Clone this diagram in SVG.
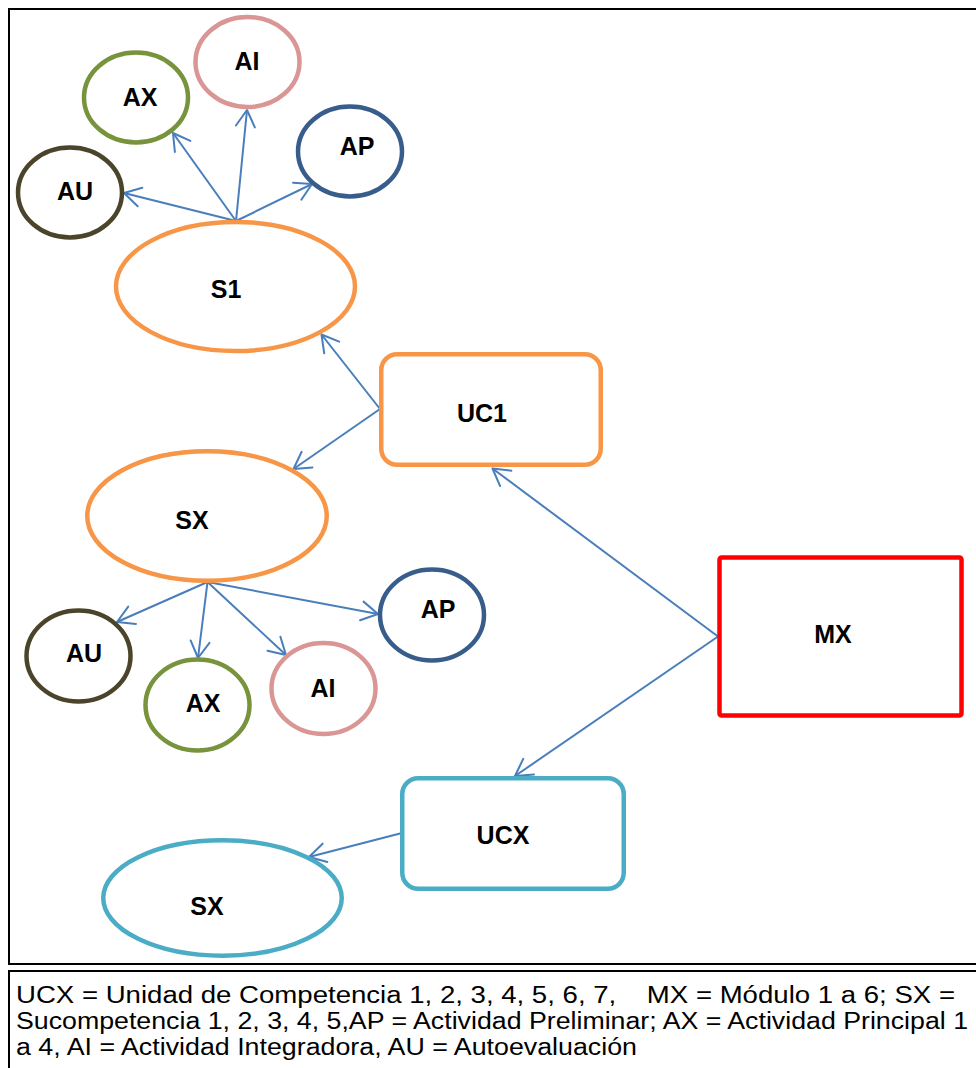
<svg xmlns="http://www.w3.org/2000/svg" width="976" height="1068" viewBox="0 0 976 1068">
  <style>
    .lbl { font-family: "Liberation Sans", Arial, sans-serif; font-weight: bold; font-size: 25px; fill: #000; text-anchor: middle; }
    .legend { font-family: "Liberation Sans", Arial, sans-serif; font-size: 23.5px; fill: #000; white-space: pre; }
    .frame { fill: none; stroke: #000; stroke-width: 2; }
    .node { fill: #fff; stroke-width: 4.5; }
    .orange { stroke: #F79646; }
    .teal { stroke: #4BACC6; }
    .red { stroke: #FF0000; }
    .pink { stroke: #D99694; }
    .green { stroke: #77933C; }
    .navy { stroke: #385D8A; }
    .olive { stroke: #4A452A; }
    .conn { fill: none; stroke: #4A7EBB; stroke-width: 2; marker-end: url(#arrow); }
  </style>
  <defs>
    <marker id="arrow" viewBox="-1 -1 23 22" refX="20" refY="10" markerWidth="23" markerHeight="22" markerUnits="userSpaceOnUse" orient="auto">
      <path d="M3.5,0.5 L20,10 L3.5,19.5" fill="none" stroke="#4A7EBB" stroke-width="2" stroke-linecap="round" stroke-linejoin="round"/>
    </marker>
  </defs>

  <rect width="976" height="1068" fill="#fff"/>

  <!-- outer frame of the chart and legend box -->
  <path class="frame" d="M980,9 H9 V964 H980"/>
  <path class="frame" d="M980,971 H9 V1072"/>

  <!-- connectors -->
  <g id="connectors">
    <line class="conn" x1="236" y1="221" x2="124" y2="193"/>
    <line class="conn" x1="236" y1="221" x2="173" y2="133"/>
    <line class="conn" x1="236" y1="221" x2="247" y2="110"/>
    <line class="conn" x1="236" y1="221" x2="312" y2="184"/>
    <line class="conn" x1="380" y1="409" x2="321.5" y2="334.5"/>
    <line class="conn" x1="380" y1="409" x2="293.5" y2="469"/>
    <line class="conn" x1="207.5" y1="582" x2="117" y2="622"/>
    <line class="conn" x1="207.5" y1="582" x2="198" y2="658"/>
    <line class="conn" x1="207.5" y1="582" x2="286" y2="655"/>
    <line class="conn" x1="207.5" y1="582" x2="378" y2="614"/>
    <line class="conn" x1="718" y1="636.5" x2="492.5" y2="468.5"/>
    <line class="conn" x1="718" y1="636.5" x2="515" y2="776"/>
    <line class="conn" x1="402" y1="833" x2="309" y2="857"/>
  </g>

  <!-- upper competency branch -->
  <g id="ai-top">
    <ellipse class="node pink" cx="247.5" cy="62" rx="52" ry="45"/>
    <text class="lbl" x="247" y="70">AI</text>
  </g>
  <g id="ax-top">
    <ellipse class="node green" cx="136" cy="97.5" rx="52" ry="45"/>
    <text class="lbl" x="140" y="106">AX</text>
  </g>
  <g id="ap-top">
    <ellipse class="node navy" cx="350" cy="151.5" rx="52" ry="45"/>
    <text class="lbl" x="357" y="155">AP</text>
  </g>
  <g id="au-top">
    <ellipse class="node olive" cx="70" cy="192.5" rx="52" ry="45"/>
    <text class="lbl" x="75" y="200">AU</text>
  </g>
  <g id="s1">
    <ellipse class="node orange" cx="235.5" cy="286.5" rx="119.5" ry="64.5"/>
    <text class="lbl" x="226" y="297.5">S1</text>
  </g>
  <g id="uc1">
    <rect class="node orange" x="381.25" y="354.25" width="219.5" height="110.5" rx="16"/>
    <text class="lbl" x="482" y="422">UC1</text>
  </g>
  <g id="sx-orange">
    <ellipse class="node orange" cx="207" cy="516" rx="119.75" ry="64.75"/>
    <text class="lbl" x="192" y="529">SX</text>
  </g>

  <!-- lower activities -->
  <g id="au-bottom">
    <ellipse class="node olive" cx="78.5" cy="656" rx="52" ry="45.5"/>
    <text class="lbl" x="84" y="662">AU</text>
  </g>
  <g id="ax-bottom">
    <ellipse class="node green" cx="197.5" cy="705" rx="52" ry="45.5"/>
    <text class="lbl" x="203" y="712">AX</text>
  </g>
  <g id="ai-bottom">
    <ellipse class="node pink" cx="323.5" cy="688.5" rx="52" ry="45.5"/>
    <text class="lbl" x="323" y="697">AI</text>
  </g>
  <g id="ap-bottom">
    <ellipse class="node navy" cx="432" cy="615" rx="52" ry="45.5"/>
    <text class="lbl" x="438" y="618">AP</text>
  </g>

  <!-- module and second competency -->
  <g id="mx">
    <rect class="node red" x="719.5" y="557.5" width="242" height="158" rx="2"/>
    <text class="lbl" x="833" y="643">MX</text>
  </g>
  <g id="ucx">
    <rect class="node teal" x="402.25" y="778.25" width="221.5" height="110.5" rx="16"/>
    <text class="lbl" x="503" y="844">UCX</text>
  </g>
  <g id="sx-teal">
    <ellipse class="node teal" cx="222.5" cy="898" rx="119.25" ry="57.75"/>
    <text class="lbl" x="207" y="915">SX</text>
  </g>

  <!-- legend -->
  <g id="legend">
    <text class="legend" x="16" y="1003" textLength="939" lengthAdjust="spacingAndGlyphs">UCX = Unidad de Competencia 1, 2, 3, 4, 5, 6, 7,    MX = Módulo 1 a 6; SX =</text>
    <text class="legend" x="16" y="1029" textLength="952" lengthAdjust="spacingAndGlyphs">Sucompetencia 1, 2, 3, 4, 5,AP = Actividad Preliminar; AX = Actividad Principal 1</text>
    <text class="legend" x="16" y="1055" textLength="621" lengthAdjust="spacingAndGlyphs">a 4, AI = Actividad Integradora, AU = Autoevaluación</text>
  </g>
</svg>
